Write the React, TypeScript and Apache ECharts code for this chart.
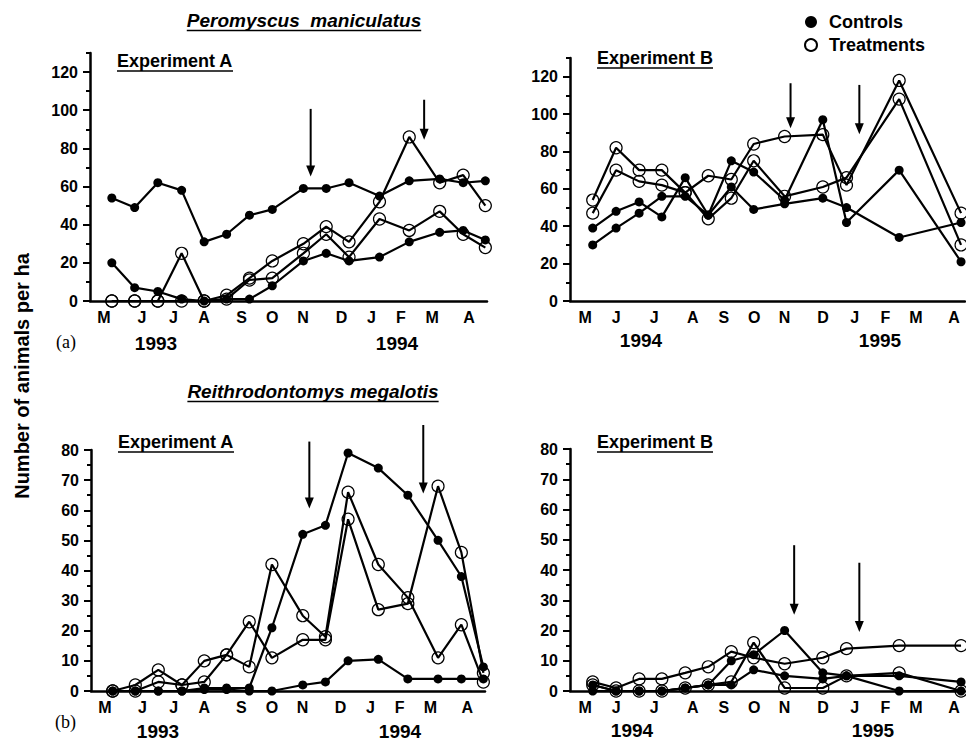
import React, { useEffect, useRef } from 'react';
import * as echarts from 'echarts';

const FONT = '"Liberation Sans", Arial, Helvetica, sans-serif';
const SERIF = '"Liberation Serif", "Times New Roman", serif';

// Month tick labels and their positions (in month units along each x axis)
const monthLabels = ['M', 'J', 'J', 'A', 'S', 'O', 'N', 'D', 'J', 'F', 'M', 'A'];
const monthPosA = [0.42, 1.57, 2.52, 3.45, 4.58, 5.51, 6.44, 7.6, 8.51, 9.4, 10.34, 11.46];
const monthPosB = [0.46, 1.4, 2.56, 3.73, 4.67, 5.6, 6.52, 7.69, 8.65, 9.58, 10.51, 11.67];

// Sampling dates (month units)
const sampleA = [0.66, 1.35, 2.05, 2.77, 3.45, 4.13, 4.82, 5.51, 6.45, 7.14, 7.83, 8.75, 9.65, 10.57, 11.28, 11.95];
const sampleB = [0.69, 1.4, 2.1, 2.79, 3.5, 4.2, 4.9, 5.58, 6.52, 7.68, 8.4, 10.0, 11.88];

// Peromyscus maniculatus, Experiment A
const pmAControl1 = [54, 49, 62, 58, 31, 35, 45, 48, 59, 59, 62, 55, 63, 64, 62, 63];
const pmAControl2 = [20, 7, 5, 1, 0, 1, 1, 8, 21, 25, 21, 23, 31, 36, 37, 32];
const pmATreat1 = [0, 0, 0, 25, 0, 3, 12, 21, 30, 39, 31, 52, 86, 62, 66, 50];
const pmATreat2 = [0, 0, 0, 0, 0, 1, 11, 12, 25, 35, 23, 43, 37, 47, 35, 28];

// Peromyscus maniculatus, Experiment B
const pmBControl1 = [39, 48, 53, 45, 66, 46, 75, 69, 54, 97, 42, 70, 21];
const pmBControl2 = [30, 39, 47, 56, 56, 46, 61, 49, 52, 55, 50, 34, 42];
const pmBTreat1 = [54, 82, 70, 70, 58, 44, 55, 75, 56, 61, 66, 108, 30];
const pmBTreat2 = [47, 70, 64, 62, 58, 67, 65, 84, 88, 89, 62, 118, 47];

// Reithrodontomys megalotis, Experiment A
const rmAControl1 = [0, 0, 0, 0, 1, 1, 1, 21, 52, 55, 79, 74, 65, 50, 38, 8];
const rmAControl2 = [0, 0, 0, 0, 0.5, 0.5, 0, 0, 2, 3, 10, 10.5, 4, 4, 4, 4];
const rmATreat1 = [0, 2, 7, 2, 10, 12, 23, 11, 17, 17, 57, 27, 29, 68, 46, 6];
const rmATreat2 = [0, 0, 3, 2, 3, 12, 8, 42, 25, 18, 66, 42, 31, 11, 22, 3];

// Reithrodontomys megalotis, Experiment B
const rmBControl1 = [0, 0, 0, 0, 1, 2, 10, 12, 20, 6, 5, 0, 0];
const rmBControl2 = [2, 0, 0, 0, 1, 2, 2, 7, 5, 4, 5, 5, 3];
const rmBTreat1 = [3, 1, 4, 4, 6, 8, 13, 11, 9, 11, 14, 15, 15];
const rmBTreat2 = [2, 0, 0, 0, 1, 2, 3, 16, 1, 1, 5, 6, 0];

// y ticks
const topMajor = [0, 20, 40, 60, 80, 100, 120];
const topMinor = [10, 30, 50, 70, 90, 110, 130];
const botMajor = [0, 10, 20, 30, 40, 50, 60, 70, 80];
const botMinor = [5, 15, 25, 35, 45, 55, 65, 75];

// Arrows (x in months, y from -> to)
const arrowsPmA = [[6.67, 100.7, 65.2], [10.1, 105.5, 84.5]];
const arrowsPmB = [[6.7, 116.5, 92.4], [8.79, 115.6, 89.2]];
const arrowsRmA = [[6.65, 82.8, 60.6], [10.12, 88.3, 65.6]];
const arrowsRmB = [[6.81, 48.2, 25.2], [8.79, 42.4, 19.5]];

const panels = [
  { grid: [90, 53, 397, 248], months: monthPosA, samples: sampleA, yMax: 130, major: topMajor, minor: topMinor,
    controls: [pmAControl1, pmAControl2], treats: [pmATreat1, pmATreat2], arrows: arrowsPmA },
  { grid: [570, 58, 395, 243], months: monthPosB, samples: sampleB, yMax: 130, major: topMajor, minor: topMinor,
    controls: [pmBControl1, pmBControl2], treats: [pmBTreat1, pmBTreat2], arrows: arrowsPmB },
  { grid: [91, 450, 394, 241], months: monthPosA, samples: sampleA, yMax: 80, major: botMajor, minor: botMinor,
    controls: [rmAControl1, rmAControl2], treats: [rmATreat1, rmATreat2], arrows: arrowsRmA },
  { grid: [570, 449, 395, 242], months: monthPosB, samples: sampleB, yMax: 80, major: botMajor, minor: botMinor,
    controls: [rmBControl1, rmBControl2], treats: [rmBTreat1, rmBTreat2], arrows: arrowsRmB },
];

function measure(text: string, font: string) {
  const c = document.createElement('canvas').getContext('2d');
  if (!c) return text.length * 9;
  c.font = font;
  return c.measureText(text).width;
}

export default function App() {
  const ref = useRef<HTMLDivElement>(null);
  useEffect(() => {
    const el = ref.current;
    if (!el) return;
    const chart = echarts.init(el, null, { renderer: 'svg' });
    const grids: any[] = [];
    const xAxes: any[] = [];
    const yAxes: any[] = [];
    const series: any[] = [];
    const labelStyle = { color: '#000', fontWeight: 'bold', fontSize: 16, fontFamily: FONT };

    panels.forEach((p, i) => {
      grids.push({ left: p.grid[0], top: p.grid[1], width: p.grid[2], height: p.grid[3], containLabel: false, outerBoundsMode: 'none' });
      xAxes.push({
        type: 'value', gridIndex: i, min: 0, max: 12,
        axisLine: { show: true, onZero: false, lineStyle: { color: '#000', width: 2.5 } },
        axisTick: { show: false },
        splitLine: { show: false },
        axisLabel: {
          ...labelStyle, margin: 8, customValues: p.months,
          formatter: (v: number) => {
            const k = p.months.findIndex((m) => Math.abs(m - v) < 1e-6);
            return k >= 0 ? monthLabels[k] : '';
          },
        },
      });
      yAxes.push({
        type: 'value', gridIndex: i, position: 'left', min: 0, max: p.yMax,
        axisLine: { show: true, onZero: false, lineStyle: { color: '#000', width: 2.5 } },
        axisTick: { show: true, inside: false, length: 7, lineStyle: { color: '#000', width: 2 }, customValues: p.major },
        axisLabel: { ...labelStyle, margin: 12, customValues: p.major },
        splitLine: { show: false },
      });
      yAxes.push({
        type: 'value', gridIndex: i, position: 'left', offset: 0, min: 0, max: p.yMax,
        axisLine: { show: false },
        axisTick: { show: true, inside: false, length: 4, lineStyle: { color: '#000', width: 2 }, customValues: p.minor },
        axisLabel: { show: false },
        splitLine: { show: false },
      });
      p.controls.forEach((vals) => {
        series.push({
          type: 'line', name: 'Controls', xAxisIndex: i, yAxisIndex: 2 * i, clip: false,
          data: vals.map((v, k) => [p.samples[k], v]),
          symbol: 'circle', symbolSize: 9,
          lineStyle: { color: '#000', width: 2.2 },
          itemStyle: { color: '#000' },
          z: 3,
        });
      });
      p.treats.forEach((vals) => {
        series.push({
          type: 'line', name: 'Treatments', xAxisIndex: i, yAxisIndex: 2 * i, clip: false,
          data: vals.map((v, k) => [p.samples[k], v]),
          symbol: 'circle', symbolSize: 12,
          lineStyle: { color: '#000', width: 2.2 },
          itemStyle: { color: 'rgba(255,255,255,0)', borderColor: '#000', borderWidth: 1.2 },
          z: 4,
        });
      });
    });

    chart.setOption({
      animation: false,
      backgroundColor: '#fff',
      grid: grids,
      xAxis: xAxes,
      yAxis: yAxes,
      series,
      legend: {
        left: 799, top: 8, orient: 'vertical', itemWidth: 26, itemHeight: 12, itemGap: 5,
        selectedMode: false,
        textStyle: { color: '#000', fontWeight: 'bold', fontSize: 18, fontFamily: FONT },
        data: [
          { name: 'Controls', icon: 'circle', itemStyle: { color: '#000', borderWidth: 0 } },
          { name: 'Treatments', icon: 'circle', itemStyle: { color: '#fff', borderColor: '#000', borderWidth: 2 } },
        ],
      },
    });

    const g: any[] = [];
    const addText = (text: string, x: number, y: number, font: any, align = 'center', underline = false) => {
      g.push({
        type: 'text', x, y, silent: true,
        style: { text, fill: '#000', align, verticalAlign: 'middle', ...font },
      });
      if (underline) {
        const w = measure(text, `${font.fontStyle || 'normal'} ${font.fontWeight || 'normal'} ${font.fontSize}px ${FONT}`);
        const x0 = align === 'center' ? x - w / 2 : x;
        const uy = y + font.fontSize * 0.55;
        g.push({ type: 'line', silent: true, shape: { x1: x0, y1: uy, x2: x0 + w, y2: uy }, style: { stroke: '#000', lineWidth: 1.5 } });
      }
    };
    const titleFont = { fontSize: 19, fontWeight: 'bold', fontStyle: 'italic', fontFamily: FONT };
    const expFont = { fontSize: 18, fontWeight: 'bold', fontFamily: FONT };
    const yearFont = { fontSize: 19, fontWeight: 'bold', fontFamily: FONT };
    const serifFont = { fontSize: 18, fontFamily: SERIF };

    addText('Peromyscus  maniculatus', 304, 20, titleFont, 'center', true);
    addText('Reithrodontomys megalotis', 313, 391, titleFont, 'center', true);
    addText('Experiment A', 117, 61, expFont, 'left', true);
    addText('Experiment B', 597, 58, expFont, 'left', true);
    addText('Experiment A', 118, 442, expFont, 'left', true);
    addText('Experiment B', 597, 442, expFont, 'left', true);
    addText('1993', 156, 343, yearFont);
    addText('1994', 397, 343, yearFont);
    addText('1994', 641, 340, yearFont);
    addText('1995', 880, 340, yearFont);
    addText('1993', 158, 731, yearFont);
    addText('1994', 400, 731, yearFont);
    addText('1994', 632, 730, yearFont);
    addText('1995', 873, 730, yearFont);
    addText('(a)', 76, 342, serifFont, 'right');
    addText('(b)', 76, 722, serifFont, 'right');
    g.push({
      type: 'text', x: 22, y: 376, rotation: Math.PI / 2, silent: true,
      style: { text: 'Number of animals per ha', fill: '#000', align: 'center', verticalAlign: 'middle', fontSize: 20, fontWeight: 'bold', fontFamily: FONT },
    });

    panels.forEach((p, i) => {
      p.arrows.forEach(([ax, y1, y2]) => {
        const a = chart.convertToPixel({ xAxisIndex: i, yAxisIndex: 2 * i }, [ax, y1]) as number[];
        const b = chart.convertToPixel({ xAxisIndex: i, yAxisIndex: 2 * i }, [ax, y2]) as number[];
        if (!a || !b) return;
        const head = 11;
        g.push({ type: 'line', silent: true, shape: { x1: a[0], y1: a[1], x2: b[0], y2: b[1] - head + 2 }, style: { stroke: '#000', lineWidth: 2 } });
        g.push({ type: 'polygon', silent: true, shape: { points: [[b[0] - 4.5, b[1] - head], [b[0] + 4.5, b[1] - head], [b[0], b[1]]] }, style: { fill: '#000' } });
      });
    });

    chart.setOption({ graphic: g });

    return () => chart.dispose();
  }, []);
  return <div ref={ref} style={{ position: 'absolute', left: 0, top: 0, width: 966, height: 740, background: '#fff' }} />;
}
